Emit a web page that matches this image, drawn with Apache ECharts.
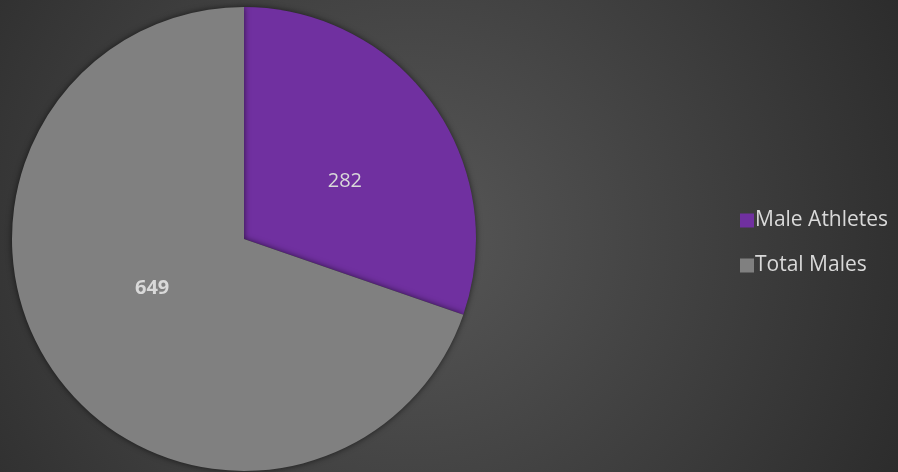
<!DOCTYPE html>
<html>
<head>
<meta charset="utf-8">
<script src="https://cdn.jsdelivr.net/npm/echarts@6/dist/echarts.min.js"></script>
<style>
  html, body { margin: 0; padding: 0; }
  #chart { width: 898px; height: 472px; }
</style>
</head>
<body>
<div id="chart"></div>
<script>
// 数据
const categories = ["Male Athletes", "Total Males"];
const values = [282, 649];
const colors = ["#7030a0", "#808080"];

let myChart = echarts.init(document.getElementById("chart"));
myChart.setOption({
  backgroundColor: {
    type: "radial",
    x: 0.46,
    y: 0.5,
    r: 1.2,
    colorStops: [
      { offset: 0, color: "#575757" },
      { offset: 1, color: "#2a2a2a" },
    ],
  },
  textStyle: { fontFamily: "Open Sans" },
  legend: {
    orient: "vertical",
    left: 735,
    top: 205,
    itemWidth: 14,
    itemHeight: 14,
    itemGap: 24,
    icon: "rect",
    textStyle: {
      color: "#d9d9d9",
      fontSize: 21,
      padding: [0, 0, 0, -4],
    },
    data: categories,
  },
  series: [
    {
      type: "pie",
      center: [244, 239],
      radius: 232,
      startAngle: 90,
      clockwise: true,
      silent: true,
      label: {
        show: true,
        position: "inside",
        color: "#d9d9d9",
        fontSize: 20,
        formatter: "{c}",
      },
      labelLine: { show: false },
      itemStyle: {
        borderWidth: 0,
        shadowBlur: 6,
        shadowColor: "rgba(0,0,0,0.6)",
      },
      data: categories.map((name, i) => ({
        name: name,
        value: values[i],
        itemStyle: { color: colors[i] },
        label: i === 1 ? { fontWeight: "bold", offset: [5, -20] } : { offset: [4, 11] },
      })),
    },
  ],
});
</script>
</body>
</html>
